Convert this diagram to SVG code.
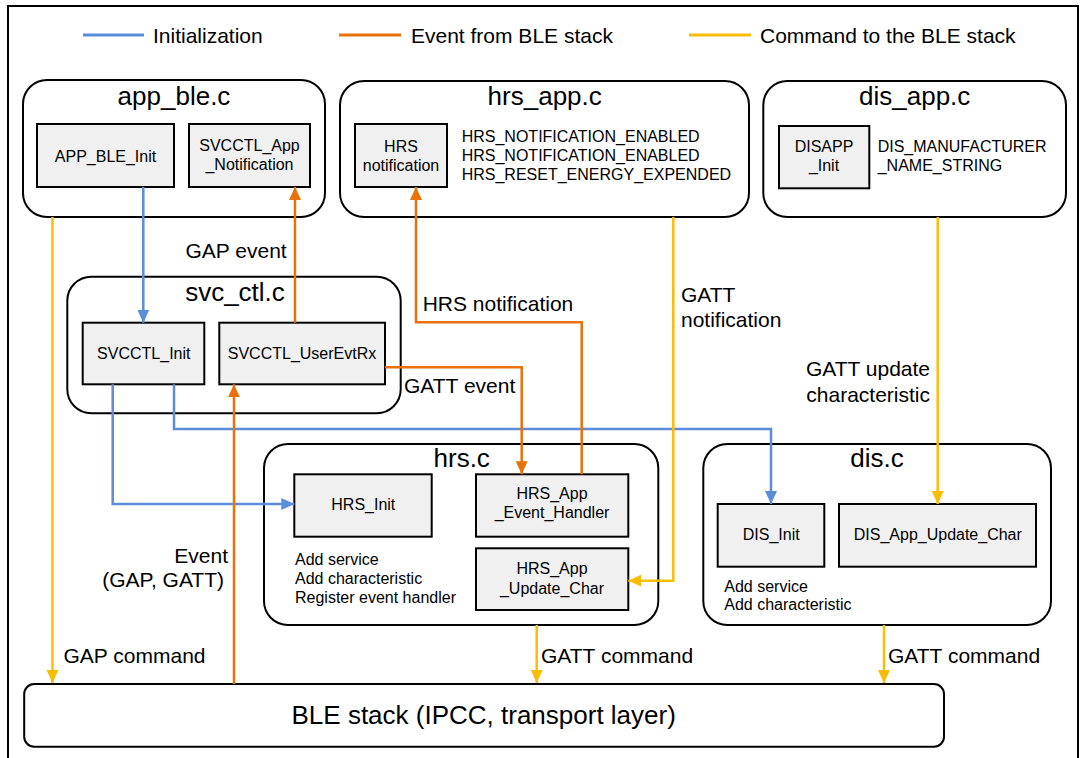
<svg xmlns="http://www.w3.org/2000/svg" width="1084" height="758" viewBox="0 0 1084 758">
<style>
.cont{fill:#fff;stroke:#000;stroke-width:2}
.box{fill:#f0f0f0;stroke:#000;stroke-width:2}
text{font-family:"Liberation Sans",Arial,sans-serif;fill:#000}
.title{font-size:26px;text-anchor:middle}
.bt{font-size:16px;text-anchor:middle}
.st{font-size:16px}
.lbl{font-size:21px}
.end{text-anchor:end}
.blue{stroke:#5b8dd9;stroke-width:2.5;fill:none}
.orange{stroke:#e8710a;stroke-width:2.5;fill:none}
.yellow{stroke:#fbbc04;stroke-width:2.5;fill:none}
</style>
<defs>
<marker id="ab" markerUnits="userSpaceOnUse" markerWidth="14" markerHeight="14" viewBox="0 0 14 14" refX="13" refY="7" orient="auto"><path d="M0,1 L13,7 L0,13 Z" fill="#5b8dd9"/></marker>
<marker id="ao" markerUnits="userSpaceOnUse" markerWidth="14" markerHeight="14" viewBox="0 0 14 14" refX="13" refY="7" orient="auto"><path d="M0,1 L13,7 L0,13 Z" fill="#e8710a"/></marker>
<marker id="ay" markerUnits="userSpaceOnUse" markerWidth="14" markerHeight="14" viewBox="0 0 14 14" refX="13" refY="7" orient="auto"><path d="M0,1 L13,7 L0,13 Z" fill="#fbbc04"/></marker>
</defs>
<rect x="0" y="0" width="1084" height="758" fill="#fff"/>
<rect x="8" y="6" width="1070" height="800" fill="none" stroke="#000" stroke-width="2"/>

<g id="legend">
<line x1="83" y1="35" x2="144" y2="35" stroke="#5b8dd9" stroke-width="3"/>
<text class="lbl" x="153" y="42.5">Initialization</text>
<line x1="339" y1="35" x2="401" y2="35" stroke="#e8710a" stroke-width="3"/>
<text class="lbl" x="411" y="42.5">Event from BLE stack</text>
<line x1="689" y1="35" x2="751" y2="35" stroke="#fbbc04" stroke-width="3"/>
<text class="lbl" x="760" y="42.5">Command to the BLE stack</text>
</g>

<g id="app_ble">
<rect class="cont" x="23" y="80" width="302" height="137" rx="24"/>
<text class="title" x="174" y="105">app_ble.c</text>
<g id="APP_BLE_Init"><rect class="box" x="37" y="124" width="137" height="63"/>
<text class="bt" x="105.5" y="161.5">APP_BLE_Init</text></g>
<g id="SVCCTL_App_Notification"><rect class="box" x="189" y="124" width="121" height="63"/>
<text class="bt" x="249.5" y="151">SVCCTL_App</text><text class="bt" x="249.5" y="169.5">_Notification</text></g>
</g>

<g id="hrs_app">
<rect class="cont" x="340" y="81" width="409" height="136" rx="24"/>
<text class="title" x="544.7" y="105">hrs_app.c</text>
<g id="HRS_notification"><rect class="box" x="355" y="124" width="92" height="63"/>
<text class="bt" x="401" y="151.5">HRS</text><text class="bt" x="401" y="170.5">notification</text></g>
<text class="st" x="461.7" y="141.5">HRS_NOTIFICATION_ENABLED</text>
<text class="st" x="461.7" y="160.5">HRS_NOTIFICATION_ENABLED</text>
<text class="st" x="461.7" y="179.5">HRS_RESET_ENERGY_EXPENDED</text>
</g>

<g id="dis_app">
<rect class="cont" x="763.3" y="81" width="302.7" height="136" rx="24"/>
<text class="title" x="914.7" y="105">dis_app.c</text>
<g id="DISAPP_Init"><rect class="box" x="779" y="126" width="90.3" height="62.3"/>
<text class="bt" x="824" y="152">DISAPP</text><text class="bt" x="824" y="171">_Init</text></g>
<text class="st" x="877.7" y="151.5">DIS_MANUFACTURER</text>
<text class="st" x="877.7" y="171">_NAME_STRING</text>
</g>

<g id="svc_ctl">
<rect class="cont" x="67.3" y="276.7" width="333.4" height="136.6" rx="24"/>
<text class="title" x="235" y="300.7">svc_ctl.c</text>
<g id="SVCCTL_Init"><rect class="box" x="82.7" y="322.7" width="121.6" height="61.6"/>
<text class="bt" x="143.8" y="358.5">SVCCTL_Init</text></g>
<g id="SVCCTL_UserEvtRx"><rect class="box" x="219.3" y="322.7" width="165.7" height="61.6"/>
<text class="bt" x="302" y="358.5">SVCCTL_UserEvtRx</text></g>
</g>

<g id="hrs">
<rect class="cont" x="264" y="444" width="394.3" height="181" rx="24"/>
<text class="title" x="461.7" y="467.3">hrs.c</text>
<g id="HRS_Init"><rect class="box" x="294.3" y="474.3" width="137.4" height="62.4"/>
<text class="bt" x="363.3" y="509.5">HRS_Init</text></g>
<g id="HRS_App_Event_Handler"><rect class="box" x="476" y="474.3" width="152.3" height="62.4"/>
<text class="bt" x="552" y="499">HRS_App</text><text class="bt" x="552" y="518">_Event_Handler</text></g>
<g id="HRS_App_Update_Char"><rect class="box" x="476" y="548.3" width="152.3" height="61.7"/>
<text class="bt" x="552" y="574">HRS_App</text><text class="bt" x="552" y="593.5">_Update_Char</text></g>
<text class="st" x="295" y="565">Add service</text>
<text class="st" x="295" y="584">Add characteristic</text>
<text class="st" x="295" y="603">Register event handler</text>
</g>

<g id="dis">
<rect class="cont" x="703.3" y="444" width="347.7" height="181" rx="24"/>
<text class="title" x="877" y="467">dis.c</text>
<g id="DIS_Init"><rect class="box" x="717.7" y="504" width="106.6" height="62.7"/>
<text class="bt" x="771.2" y="539.5">DIS_Init</text></g>
<g id="DIS_App_Update_Char"><rect class="box" x="839" y="504" width="197" height="62.7"/>
<text class="bt" x="937.8" y="539.5">DIS_App_Update_Char</text></g>
<text class="st" x="724.3" y="591.5">Add service</text>
<text class="st" x="724.3" y="610">Add characteristic</text>
</g>

<g id="ble_stack">
<rect class="cont" x="24.2" y="684" width="919.8" height="62.7" rx="10"/>
<text class="title" x="483.7" y="724">BLE stack (IPCC, transport layer)</text>
</g>

<g id="connectors">
<path class="blue" d="M143.3,187 V322.7" marker-end="url(#ab)"/>
<path class="blue" d="M112.7,384.3 V504 H294.3" marker-end="url(#ab)"/>
<path class="blue" d="M174,384.3 V429 H771 V504" marker-end="url(#ab)"/>
<path class="orange" d="M295,322.7 V187" marker-end="url(#ao)"/>
<path class="orange" d="M385,367.3 H521.7 V474.3" marker-end="url(#ao)"/>
<path class="orange" d="M581.7,474.3 V322.3 H416 V187" marker-end="url(#ao)"/>
<path class="orange" d="M234,684 V384.3" marker-end="url(#ao)"/>
<path class="yellow" d="M52.5,217 V683" marker-end="url(#ay)"/>
<path class="yellow" d="M673.3,217 V580.7 H628.3" marker-end="url(#ay)"/>
<path class="yellow" d="M937.7,217 V504" marker-end="url(#ay)"/>
<path class="yellow" d="M536.7,625 V683" marker-end="url(#ay)"/>
<path class="yellow" d="M884,625 V683" marker-end="url(#ay)"/>
<text class="lbl end" x="286.7" y="257.5">GAP event</text>
<text class="lbl" x="422.7" y="311">HRS notification</text>
<text class="lbl" x="404" y="392.5">GATT event</text>
<text class="lbl" x="681" y="301.5">GATT</text>
<text class="lbl" x="681" y="327">notification</text>
<text class="lbl end" x="930" y="376">GATT update</text>
<text class="lbl end" x="930" y="402">characteristic</text>
<text class="lbl end" x="228" y="562.5">Event</text>
<text class="lbl end" x="224" y="587">(GAP, GATT)</text>
<text class="lbl" x="63.5" y="662.5">GAP command</text>
<text class="lbl" x="541" y="662.5">GATT command</text>
<text class="lbl" x="888" y="662.5">GATT command</text>
</g>
</svg>
